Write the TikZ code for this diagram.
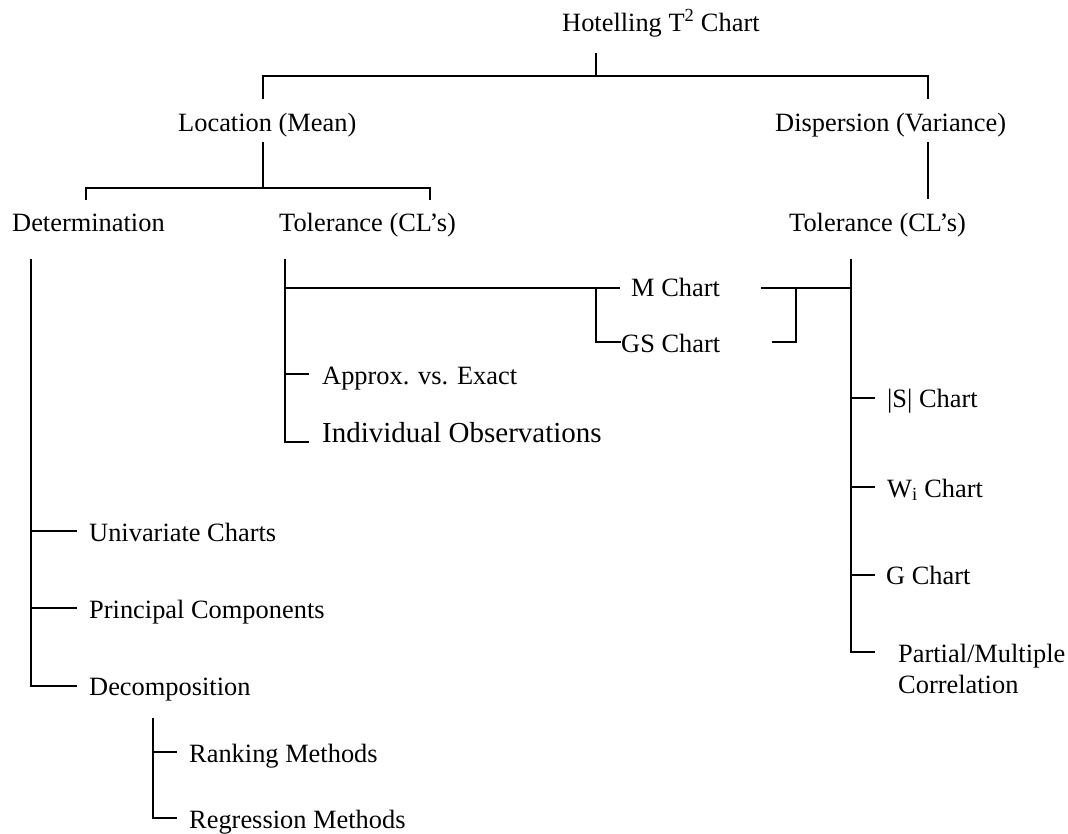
\documentclass[tikz,border=0pt]{standalone}
\usepackage{fontspec}
\setmainfont{Liberation Serif}
\begin{document}
\begin{tikzpicture}[x=1pt,y=-1pt,
  lbl/.style={inner sep=0pt, anchor=base west, font=\fontsize{26.4}{31}\selectfont},
  biglbl/.style={inner sep=0pt, anchor=base west, font=\fontsize{29}{34}\selectfont},
  ln/.style={line width=2pt, line cap=rect, line join=miter}]
\useasboundingbox (0,0) rectangle (1068,833);

% ---- text nodes ----
\node[lbl] (hot)  at (562,31)  {Hotelling T\textsuperscript{2} Chart};
\node[lbl] (loc)  at (178,131) {Location (Mean)};
\node[lbl] (disp) at (775,131) {Dispersion (Variance)};
\node[lbl] (det)  at (12,231)  {Determination};
\node[lbl] (tolL) at (279,231) {Tolerance (CL’s)};
\node[lbl] (tolR) at (789,231) {Tolerance (CL’s)};
\node[lbl] (mch)  at (631,296) {M Chart};
\node[lbl] (gsch) at (621,352) {GS Chart};
\node[lbl] (apx)  at (322,384) {Approx. vs. Exact};
\node[biglbl] (ind) at (322,442) {Individual Observations};
\node[lbl] (sch)  at (887,407) {|S| Chart};
\node[lbl] (wch)  at (887,497) {W\textsubscript{i} Chart};
\node[lbl] (gch)  at (886,584) {G Chart};
\node[lbl, anchor=north west, align=left] (pmc) at (898,644) {Partial/Multiple\\Correlation};
\node[lbl] (uni)  at (89,541)  {Univariate Charts};
\node[lbl] (pca)  at (89,618)  {Principal Components};
\node[lbl] (dec)  at (89,695)  {Decomposition};
\node[lbl] (rank) at (189,762) {Ranking Methods};
\node[lbl] (reg)  at (189,828) {Regression Methods};

% ---- junction coordinates ----
\coordinate (hotS) at (596,54);
\coordinate (hotJ) at (596,76);
\coordinate (barL) at (263,76);
\coordinate (barR) at (928,76);
\coordinate (locN) at (263,98);
\coordinate (dispN) at (928,98);

\coordinate (locS) at (263,143);
\coordinate (locJ) at (263,188);
\coordinate (b2L) at (86,188);
\coordinate (b2R) at (430,188);
\coordinate (detN) at (86,199);
\coordinate (tolLN) at (430,199);

\coordinate (dispS) at (928,143);
\coordinate (tolRN) at (928,198);

% determination subtree
\coordinate (detS) at (31,260);
\coordinate (detUni) at (31,531);
\coordinate (detPca) at (31,608);
\coordinate (detDec) at (31,686);
\coordinate (uniW) at (76,531);
\coordinate (pcaW) at (76,608);
\coordinate (decW) at (76,686);
\coordinate (decS) at (153,719);
\coordinate (decRank) at (153,752);
\coordinate (decReg) at (153,818);
\coordinate (rankW) at (176,752);
\coordinate (regW) at (176,818);

% left tolerance subtree
\coordinate (tolLS) at (285,260);
\coordinate (tolLM) at (285,288);
\coordinate (tolLApx) at (285,374);
\coordinate (tolLInd) at (285,442);
\coordinate (apxW) at (308,374);
\coordinate (indW) at (308,442);
\coordinate (mJ) at (596,288);
\coordinate (mW) at (619,288);
\coordinate (gsJ) at (596,342);
\coordinate (gsW) at (620,342);

% right bracket for M / GS
\coordinate (mE) at (762,288);
\coordinate (rJ) at (796,288);
\coordinate (rJ2) at (796,342);
\coordinate (gsE) at (773,342);
\coordinate (tolRM) at (851,288);

% right tolerance subtree
\coordinate (tolRS) at (851,260);
\coordinate (tolRS1) at (851,398);
\coordinate (tolRW1) at (851,487);
\coordinate (tolRG1) at (851,575);
\coordinate (tolRP1) at (851,652);
\coordinate (schW) at (874,398);
\coordinate (wchW) at (874,487);
\coordinate (gchW) at (874,575);
\coordinate (pmcW) at (874,652);

% ---- connectors ----
\draw[ln] (hotS) -- (hotJ);
\draw[ln] (locN) -- (barL) -- (barR) -- (dispN);

\draw[ln] (locS) -- (locJ);
\draw[ln] (detN) -- (b2L) -- (b2R) -- (tolLN);
\draw[ln] (dispS) -- (tolRN);

\draw[ln] (detS) -- (detDec) -- (decW);
\draw[ln] (detUni) -- (uniW);
\draw[ln] (detPca) -- (pcaW);
\draw[ln] (decS) -- (decReg) -- (regW);
\draw[ln] (decRank) -- (rankW);

\draw[ln] (tolLS) -- (tolLInd) -- (indW);
\draw[ln] (tolLApx) -- (apxW);
\draw[ln] (tolLM) -- (mW);
\draw[ln] (mJ) -- (gsJ) -- (gsW);

\draw[ln] (mE) -- (tolRM);
\draw[ln] (rJ) -- (rJ2) -- (gsE);

\draw[ln] (tolRS) -- (tolRP1) -- (pmcW);
\draw[ln] (tolRS1) -- (schW);
\draw[ln] (tolRW1) -- (wchW);
\draw[ln] (tolRG1) -- (gchW);
\end{tikzpicture}
\end{document}
